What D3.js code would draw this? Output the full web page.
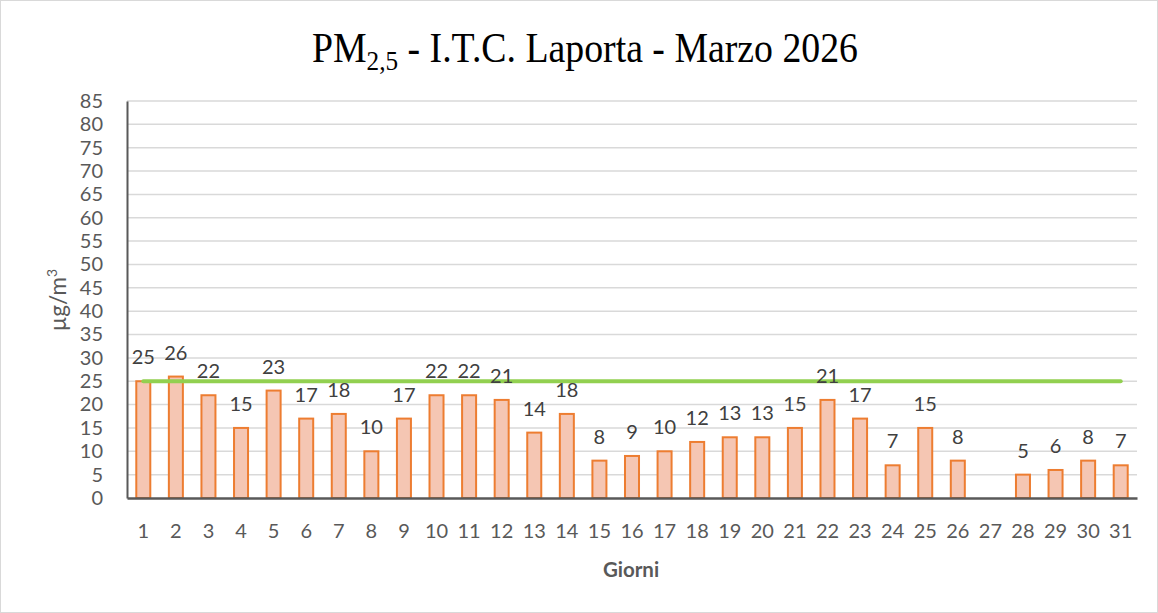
<!DOCTYPE html>
<head>
<meta charset="utf-8">
<script src="https://d3js.org/d3.v7.min.js"></script>
<title>PM2,5 - I.T.C. Laporta - Marzo 2026</title>
<style>
  body { margin: 0; background: #fff; }
</style>
</head>
<body>
<div id="chart"></div>
<script>
// giorni di marzo e valori medi giornalieri (null = dato mancante)
const giorni = d3.range(1, 32).map(String);
const valori = [25, 26, 22, 15, 23, 17, 18, 10, 17, 22, 22, 21, 14, 18, 8, 9, 10, 12, 13, 13, 15, 21, 17, 7, 15, 8, null, 5, 6, 8, 7];
const limite = 25;
const yTicks = d3.range(0, 90, 5);

const W = 1158, H = 613;
const margin = {left: 127, right: 21, top: 101, bottom: 115};
const font = 'Lato, sans-serif';

const svg = d3.select('#chart').append('svg')
    .attr('width', W)
    .attr('height', H);

svg.append('rect')
    .attr('x', 0.5).attr('y', 0.5)
    .attr('width', W - 1).attr('height', H - 1)
    .attr('fill', '#fff')
    .attr('stroke', '#d9d9d9');

const x = d3.scaleBand().domain(giorni).range([margin.left, W - margin.right]);
const y = d3.scaleLinear().domain([0, 85]).range([H - margin.bottom, margin.top]);

// griglia
svg.append('g')
    .selectAll('line')
    .data(yTicks.slice(1))
    .enter()
    .append('line')
        .attr('x1', margin.left).attr('x2', W - margin.right)
        .attr('y1', d => y(d)).attr('y2', d => y(d))
        .attr('stroke', '#d9d9d9')
        .attr('stroke-width', 1.5);

// asse y
const yAxis = svg.append('g')
    .attr('transform', `translate(${margin.left},0)`)
    .call(d3.axisLeft(y).tickValues(yTicks).tickSize(0).tickPadding(24));
yAxis.select('.domain').attr('stroke', '#595959').attr('stroke-width', 2);
yAxis.selectAll('text')
    .attr('fill', '#595959')
    .style('font-family', font)
    .style('font-size', '20px');

// barre
const dati = giorni.map((g, i) => ({g: g, v: valori[i]}));
const bw = x.bandwidth() * 0.43;

svg.append('g')
    .selectAll('rect')
    .data(dati.filter(d => d.v != null))
    .enter()
    .append('rect')
        .attr('x', d => x(d.g) + (x.bandwidth() - bw) / 2)
        .attr('y', d => y(d.v))
        .attr('width', bw)
        .attr('height', d => y(0) - y(d.v))
        .attr('fill', '#f5c6b3')
        .attr('stroke', '#ed7d31')
        .attr('stroke-width', 2);

// asse x
const xAxis = svg.append('g')
    .attr('transform', `translate(0,${y(0)})`)
    .call(d3.axisBottom(x).tickSize(0).tickPadding(26));
xAxis.select('.domain').attr('stroke', '#595959').attr('stroke-width', 2.5);
xAxis.selectAll('text')
    .attr('fill', '#595959')
    .style('font-family', font)
    .style('font-size', '20px');

// limite annuale
const line = d3.line()
    .x(d => x(d.g) + x.bandwidth() / 2)
    .y(() => y(limite));
svg.append('path')
    .datum([dati[0], dati[dati.length - 1]])
    .attr('d', line)
    .attr('fill', 'none')
    .attr('stroke', '#92d050')
    .attr('stroke-width', 4)
    .attr('stroke-linecap', 'round');

// etichette dati (sopra la linea)
svg.append('g')
    .selectAll('text')
    .data(dati.filter(d => d.v != null))
    .enter()
    .append('text')
        .attr('x', d => x(d.g) + x.bandwidth() / 2)
        .attr('y', d => y(d.v) - 17)
        .attr('text-anchor', 'middle')
        .attr('fill', '#404040')
        .style('font-family', font)
        .style('font-size', '20px')
        .text(d => d.v);

// titoli
const title = svg.append('text')
    .attr('transform', 'translate(585,62) scale(0.9,1)')
    .attr('text-anchor', 'middle')
    .attr('fill', '#000')
    .style('font-family', '"Liberation Serif", "Times New Roman", serif')
    .style('font-size', '42px');
title.append('tspan').text('PM');
title.append('tspan').attr('dy', 8).style('font-size', '28px').text('2,5');
title.append('tspan').attr('dy', -8).text(' - I.T.C. Laporta - Marzo 2026');

svg.append('text')
    .attr('x', 631)
    .attr('y', 577)
    .attr('text-anchor', 'middle')
    .attr('fill', '#595959')
    .style('font-family', font)
    .style('font-size', '20.5px')
    .style('font-weight', 'bold')
    .text('Giorni');

const ylab = svg.append('text')
    .attr('transform', 'translate(66,300) rotate(-90)')
    .attr('text-anchor', 'middle')
    .attr('fill', '#595959')
    .style('font-family', font)
    .style('font-size', '22.5px');
ylab.append('tspan').text('µg/m');
ylab.append('tspan').attr('dy', -9).style('font-size', '14px').text('3');
</script>
</body>
